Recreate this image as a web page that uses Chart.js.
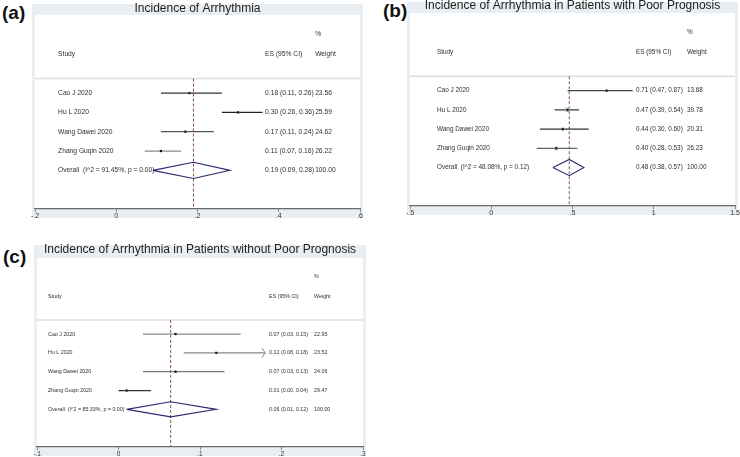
<!DOCTYPE html>
<html>
<head>
<meta charset="utf-8">
<script src="https://cdn.jsdelivr.net/npm/chart.js@4.4.1/dist/chart.umd.min.js"></script>
<style>
body { margin: 0; width: 740px; height: 457px; position: relative; background: #fff; overflow: hidden; font-family: "Liberation Sans", Arial, sans-serif; }
canvas { position: absolute; }
.tag { position: absolute; font-weight: bold; font-size: 19px; line-height: 19px; color: #111; }
</style>
</head>
<body>
<div class="tag" style="left:2px;top:3px">(a)</div>
<div class="tag" style="left:383px;top:1px">(b)</div>
<div class="tag" style="left:3px;top:247px">(c)</div>
<canvas id="chartA" width="360" height="230" style="left:15px;top:0px"></canvas>
<canvas id="chartB" width="352" height="225" style="left:390px;top:0px"></canvas>
<canvas id="chartC" width="360" height="222" style="left:15px;top:235px"></canvas>
<script>
var studies = ['Cao J 2020', 'Hu L 2020', 'Wang Dawei 2020', 'Zhang Guqin 2020'];

// (a) all patients
var titleA = 'Incidence of Arrhythmia';
var esA = [0.18, 0.30, 0.17, 0.11];
var lowA = [0.11, 0.26, 0.11, 0.07];
var highA = [0.26, 0.36, 0.24, 0.16];
var weightA = [23.56, 25.59, 24.62, 26.22];
var overallA = [0.19, 0.09, 0.28];
var hetA = ['91.45%', '0.00'];
var ticksA = [-0.2, 0, 0.2, 0.4, 0.6];
var tickLabelsA = ['-.2', '0', '.2', '.4', '.6'];

// (b) poor prognosis
var titleB = 'Incidence of Arrhythmia in Patients with Poor Prognosis';
var esB = [0.71, 0.47, 0.44, 0.40];
var lowB = [0.47, 0.39, 0.30, 0.28];
var highB = [0.87, 0.54, 0.60, 0.53];
var weightB = [13.68, 39.78, 20.31, 26.23];
var overallB = [0.48, 0.38, 0.57];
var hetB = ['48.08%', '0.12'];
var ticksB = [-0.5, 0, 0.5, 1, 1.5];
var tickLabelsB = ['-.5', '0', '.5', '1', '1.5'];

// (c) without poor prognosis
var titleC = 'Incidence of Arrhythmia in Patients without Poor Prognosis';
var esC = [0.07, 0.12, 0.07, 0.01];
var lowC = [0.03, 0.08, 0.03, 0.00];
var highC = [0.15, 0.18, 0.13, 0.04];
var weightC = [22.95, 23.52, 24.06, 29.47];
var overallC = [0.064, 0.01, 0.12];
var hetC = ['85.33%', '0.00'];
var ticksC = [-0.1, 0, 0.1, 0.2, 0.3];
var tickLabelsC = ['-.1', '0', '.1', '.2', '.3'];
var arrowRowsC = [false, true, false, false];

var FONT = '"Liberation Sans", Arial, sans-serif';

function ciText(e, l, h) {
	return e.toFixed(2) + ' (' + l.toFixed(2) + ', ' + h.toFixed(2) + ')';
}

// grey graph region, white plot region, title and text columns
var forestText = {
	id: 'forestText',
	beforeDraw: function(chart, args, o) {
		var ctx = chart.ctx, a = chart.chartArea;
		ctx.save();
		ctx.fillStyle = '#e8eef1';
		ctx.fillRect(a.left - 3, a.top - o.frameTop, a.right - a.left + 6, a.bottom - a.top + o.frameTop + 9);
		ctx.fillStyle = '#fff';
		ctx.fillRect(a.left, a.top, a.right - a.left, a.bottom - a.top);
		ctx.restore();
	},
	afterDraw: function(chart, args, o) {
		var ctx = chart.ctx, a = chart.chartArea, ys = chart.scales.y;
		var w = a.right - a.left;
		var xs = a.left + o.cols[0] * w, xe = a.left + o.cols[1] * w, xw = a.left + o.cols[2] * w;
		ctx.save();
		ctx.fillStyle = '#1e1e1e';
		ctx.font = '12px ' + FONT;
		ctx.textAlign = 'center';
		ctx.textBaseline = 'middle';
		ctx.fillText(o.title, (a.left + a.right) / 2, a.top - o.titleDy);

		ctx.fillStyle = '#2e2e2e';
		ctx.font = o.fontSize + 'px ' + FONT;
		ctx.textAlign = 'left';
		ctx.fillText('%', xw, ys.getPixelForValue(-2.05));
		ctx.fillText('Study', xs, ys.getPixelForValue(-1));
		ctx.fillText('ES (95% CI)', xe, ys.getPixelForValue(-1));
		ctx.fillText('Weight', xw, ys.getPixelForValue(-1));
		for (var i = 0; i < studies.length; i++) {
			var py = ys.getPixelForValue(i + 1);
			ctx.fillText(studies[i], xs, py);
			ctx.fillText(ciText(o.es[i], o.low[i], o.high[i]), xe, py);
			ctx.fillText(o.weight[i].toFixed(2), xw, py);
		}
		var oy = ys.getPixelForValue(studies.length + 1);
		ctx.fillText('Overall  (I^2 = ' + o.het[0] + ', p = ' + o.het[1] + ')', xs, oy);
		ctx.fillText(ciText(o.overall[0], o.overall[1], o.overall[2]), xe, oy);
		ctx.fillText('100.00', xw, oy);
		ctx.restore();
	}
};

function makeForest(id, d, look) {
	var xmin = d.ticks[0], xmax = d.ticks[d.ticks.length - 1];
	var sepY = 0.25;
	var n = studies.length;
	var datasets = [];

	datasets.push({
		data: [{x: xmin, y: sepY}, {x: xmax, y: sepY}],
		showLine: true, borderColor: '#dedede', borderWidth: 1.5, pointRadius: 0
	});
	datasets.push({
		data: [{x: d.overall[0], y: sepY}, {x: d.overall[0], y: 7}],
		showLine: true, borderColor: '#8a4e4e', borderWidth: 1, borderDash: [3, 2], pointRadius: 0
	});
	for (var i = 0; i < n; i++) {
		datasets.push({
			data: [{x: d.low[i], y: i + 1}, {x: d.high[i], y: i + 1}],
			showLine: true, borderColor: look.ciColors[i], borderWidth: 1.2, pointRadius: 0
		});
		if (d.arrows && d.arrows[i]) {
			datasets.push({
				data: [{x: d.high[i] - look.arrowW, y: i + 1 - 0.25}, {x: d.high[i], y: i + 1}, {x: d.high[i] - look.arrowW, y: i + 1 + 0.25}],
				showLine: true, borderColor: look.ciColors[i], borderWidth: 1, pointRadius: 0
			});
		}
	}
	datasets.push({
		data: d.es.map(function(e, i) { return {x: e, y: i + 1}; }),
		pointStyle: 'rect', pointRadius: d.weight.map(function(wt) { return look.boxScale * Math.sqrt(wt); }),
		backgroundColor: '#b4b4b4', borderWidth: 0
	});
	datasets.push({
		data: d.es.map(function(e, i) { return {x: e, y: i + 1}; }),
		pointStyle: 'rect', pointRadius: 1.5, backgroundColor: '#111', borderWidth: 0
	});
	var oy = n + 1, h = look.diamondH;
	datasets.push({
		data: [{x: d.overall[1], y: oy}, {x: d.overall[0], y: oy - h}, {x: d.overall[2], y: oy},
			{x: d.overall[0], y: oy + h}, {x: d.overall[1], y: oy}],
		showLine: true, borderColor: '#2a2a70', borderWidth: 1.1, pointRadius: 0, fill: false
	});

	// Chart.js paints dataset 0 last, so flip to get the push order bottom-to-top
	datasets.reverse();

	return new Chart(document.getElementById(id), {
		type: 'scatter',
		data: {datasets: datasets},
		options: {
			responsive: false,
			animation: false,
			devicePixelRatio: 1,
			layout: {padding: look.padding},
			plugins: {
				legend: {display: false},
				tooltip: {enabled: false},
				forestText: {
					title: d.title, es: d.es, low: d.low, high: d.high, weight: d.weight,
					overall: d.overall, het: d.het, cols: look.cols, fontSize: look.fontSize,
					titleDy: look.titleDy, frameTop: look.frameTop
				}
			},
			scales: {
				x: {
					type: 'linear', position: 'bottom', min: xmin, max: xmax,
					afterBuildTicks: function(s) { s.ticks = d.ticks.map(function(v) { return {value: v}; }); },
					afterFit: function(s) { s.height = 10; },
					ticks: {
						padding: 0, color: '#333', maxRotation: 0, autoSkip: false,
						font: {family: FONT, size: look.tickSize},
						callback: function(v) {
							var k = d.ticks.indexOf(v);
							return k >= 0 ? d.tickLabels[k] : '';
						}
					},
					grid: {drawOnChartArea: false, drawTicks: true, tickLength: 3, color: '#888'},
					border: {display: true, color: '#6a6a6a', width: 1.2}
				},
				y: {type: 'linear', min: -3.04, max: 7.0, reverse: true, display: false}
			}
		},
		plugins: [forestText]
	});
}

makeForest('chartA', {
	title: titleA, es: esA, low: lowA, high: highA, weight: weightA, overall: overallA, het: hetA,
	ticks: ticksA, tickLabels: tickLabelsA
}, {
	padding: {left: 20, right: 15, top: 15, bottom: 11},
	cols: [0.071, 0.708, 0.862], fontSize: 6.7, tickSize: 7, titleDy: 6, frameTop: 11,
	ciColors: ['#333', '#222', '#555', '#888'], boxScale: 0.35, diamondH: 0.42, arrowW: 0
});

makeForest('chartB', {
	title: titleB, es: esB, low: lowB, high: highB, weight: weightB, overall: overallB, het: hetB,
	ticks: ticksB, tickLabels: tickLabelsB
}, {
	padding: {left: 20, right: 7, top: 13, bottom: 9},
	cols: [0.083, 0.695, 0.852], fontSize: 6.4, tickSize: 7, titleDy: 7, frameTop: 11,
	ciColors: ['#444', '#333', '#333', '#666'], boxScale: 0.5, diamondH: 0.42, arrowW: 0
});

makeForest('chartC', {
	title: titleC, es: esC, low: lowC, high: highC, weight: weightC, overall: overallC, het: hetC,
	ticks: ticksC, tickLabels: tickLabelsC, arrows: arrowRowsC
}, {
	padding: {left: 22, right: 12, top: 23, bottom: 0},
	cols: [0.034, 0.712, 0.85], fontSize: 5.3, tickSize: 6.5, titleDy: 8, frameTop: 13,
	ciColors: ['#888', '#888', '#777', '#333'], boxScale: 0.33, diamondH: 0.4, arrowW: 0.004
});
</script>
</body>
</html>
